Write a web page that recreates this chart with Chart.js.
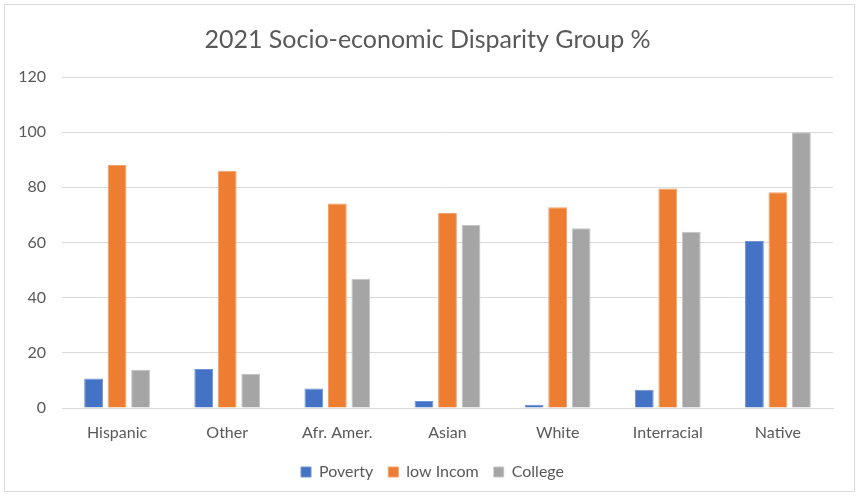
<!DOCTYPE html>
<html>
<head>
<meta charset="utf-8">
<script src="https://cdn.jsdelivr.net/npm/chart.js@4/dist/chart.umd.min.js"></script>
<style>
  html, body { margin: 0; padding: 0; background: #fff; }
  #wrap { position: relative; width: 859px; height: 496px; }
  #frame { position: absolute; left: 4px; top: 4px; width: 849px; height: 486px; border: 1.5px solid #d9d9d9; pointer-events: none; }
  canvas { position: absolute; left: 0; top: 0; }
</style>
</head>
<body>
<div id="wrap">
  <canvas id="c" width="859" height="496"></canvas>
  <div id="frame"></div>
</div>
<script>
const titleText = '2021 Socio-economic Disparity Group %';
const categories = ['Hispanic', 'Other', 'Afr. Amer.', 'Asian', 'White', 'Interracial', 'Native'];
const seriesNames = ['Poverty', 'low Incom', 'College'];
const poverty = [10.7, 14.1, 7.1, 2.5, 1.2, 6.6, 60.5];
const lowIncome = [88.1, 86.0, 74.1, 70.7, 72.8, 79.6, 78.2];
const college = [13.9, 12.4, 46.9, 66.3, 65.2, 63.9, 100];
const yTicks = [0, 20, 40, 60, 80, 100, 120];

const FONT = 'Lato, "Open Sans", sans-serif';
const TXT = '#595959';

const mk = (label, data, color, edge) => ({
  label, data, backgroundColor: color, borderColor: edge, borderWidth: 1,
  categoryPercentage: 0.64, barPercentage: 0.8
});

// Centre the title and legend on the whole frame rather than the padded box
const recenter = {
  id: 'recenter',
  afterLayout(chart) {
    const shift = (box, dx) => { if (box) { box.left += dx; box.right += dx; } };
    shift(chart.titleBlock, 6);
    shift(chart.legend, 11);
  }
};

new Chart(document.getElementById('c'), {
  type: 'bar',
  data: {
    labels: categories,
    datasets: [
      mk(seriesNames[0], poverty, '#4472C4', '#6f93d6'),
      mk(seriesNames[1], lowIncome, '#ED7D31', '#f4a06a'),
      mk(seriesNames[2], college, '#A5A5A5', '#c4c4c4')
    ]
  },
  plugins: [recenter],
  options: {
    responsive: false,
    animation: false,
    layout: { padding: { left: 10, right: 26, top: 4, bottom: 6 } },
    plugins: {
      title: {
        display: true, text: titleText, color: TXT,
        font: { family: FONT, size: 25, weight: 'normal' },
        padding: { top: 21, bottom: 22 }
      },
      legend: {
        position: 'bottom',
        labels: {
          color: TXT, boxWidth: 10, boxHeight: 10, padding: 15,
          font: { family: FONT, size: 16 }
        }
      },
      tooltip: { enabled: false }
    },
    scales: {
      x: {
        grid: { display: false, drawTicks: false },
        border: { display: true, color: '#d9d9d9', width: 1 },
        ticks: { color: TXT, font: { family: FONT, size: 16 }, padding: 15, maxRotation: 0 },
        afterFit: s => { s.height = 41; }
      },
      y: {
        min: 0, max: 120,
        afterBuildTicks: s => { s.ticks = yTicks.map(v => ({ value: v })); },
        grid: { color: '#d9d9d9', lineWidth: 1, drawTicks: false },
        border: { display: false },
        ticks: { color: TXT, font: { family: FONT, size: 16 }, padding: 16 },
        afterFit: s => { s.width = 52; }
      }
    }
  }
});
</script>
</body>
</html>
